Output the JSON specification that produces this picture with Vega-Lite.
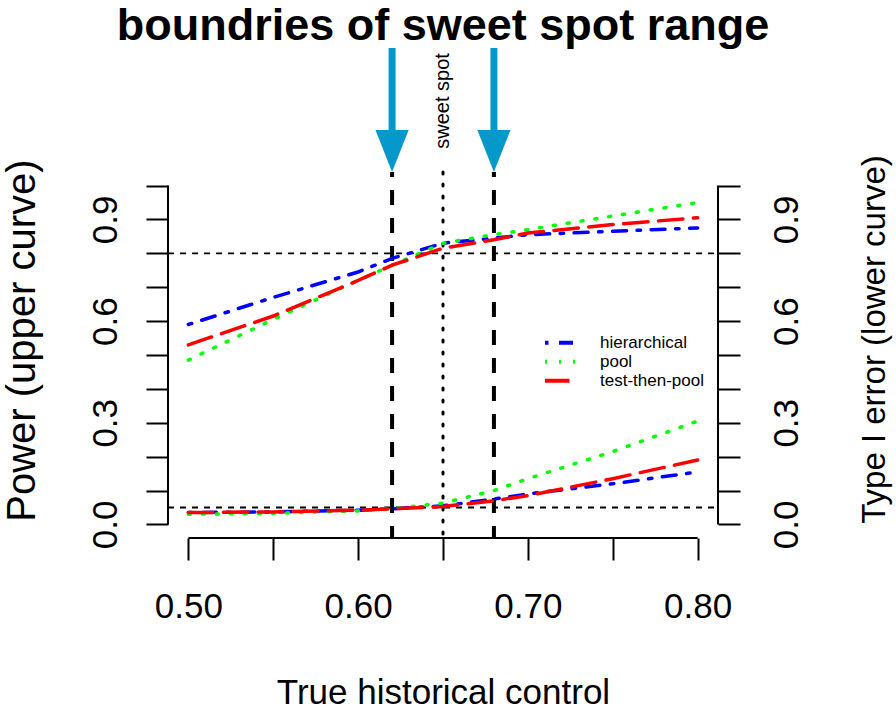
{
  "$schema": "https://vega.github.io/schema/vega-lite/v6.json",
  "width": 550,
  "height": 366,
  "autosize": "none",
  "padding": {"left": 168, "top": 172, "right": 178, "bottom": 171},
  "background": "white",
  "config": {"font": "Liberation Sans", "view": {"stroke": null}},
  "title": {"text": "boundries of sweet spot range", "fontSize": 45, "fontWeight": "bold", "anchor": "middle", "frame": "group", "baseline": "alphabetic", "offset": -41, "color": "black"},
  "resolve": {"axis": {"y": "independent", "x": "independent"}},
  "layer": [
    {
      "data": {"values": [
        {"x": 0.5, "x2": 0.8, "y": -0.04, "y2": -0.04},
        {"x": 0.488, "x2": 0.488, "y": 0, "y2": 1},
        {"x": 0.812, "x2": 0.812, "y": 0, "y2": 1}
      ]},
      "mark": {"type": "rule", "color": "black", "strokeWidth": 2},
      "encoding": {
        "x": {"field": "x", "type": "quantitative", "scale": {"domain": [0.488, 0.812], "nice": false, "zero": false}, "axis": null},
        "x2": {"field": "x2"},
        "y": {"field": "y", "type": "quantitative", "scale": {"domain": [-0.04, 1.04], "nice": false, "zero": false},
          "axis": {"orient": "right", "values": [0, 0.1, 0.2, 0.3, 0.4, 0.5, 0.6, 0.7, 0.8, 0.9, 1.0], "domain": false, "grid": false,
            "tickSize": 22, "tickWidth": 2, "tickColor": "black",
            "labelExpr": "abs(datum.value*10/3 - round(datum.value*10/3)) < 0.01 ? format(datum.value, '.1f') : ''",
            "labelFontSize": 35, "labelAngle": 270, "labelAlign": "center", "labelBaseline": "alphabetic", "labelPadding": 57, "labelColor": "black", "labelOverlap": false, "labelFlush": false,
            "title": "Type I error (lower curve)", "titleFontSize": 33, "titleFontWeight": "normal", "titleColor": "black", "titleAngle": 270, "titleAlign": "center", "titleBaseline": "alphabetic", "titleX": 166, "titleY": 167}},
        "y2": {"field": "y2"}
      }
    },
    {
      "data": {"values": [{"y": 0.8, "x": 0.488, "x2": 0.812}, {"y": 0.05, "x": 0.488, "x2": 0.812}]},
      "mark": {"type": "rule", "color": "black", "strokeWidth": 1.8, "strokeDash": [6, 6]},
      "encoding": {
        "x": {"field": "x", "type": "quantitative", "axis": null},
        "x2": {"field": "x2"},
        "y": {"field": "y", "type": "quantitative", "axis": null}
      }
    },
    {
      "data": {"values": [{"x": 0.62, "y": 1.04, "y2": -0.04}, {"x": 0.68, "y": 1.04, "y2": -0.04}]},
      "mark": {"type": "rule", "color": "black", "strokeWidth": 4, "strokeDash": [15, 13], "strokeDashOffset": 10},
      "encoding": {
        "x": {"field": "x", "type": "quantitative", "axis": null},
        "y": {"field": "y", "type": "quantitative", "axis": null},
        "y2": {"field": "y2"}
      }
    },
    {
      "data": {"values": [{"x": 0.65, "y": 1.04, "y2": -0.04}]},
      "mark": {"type": "rule", "color": "black", "strokeWidth": 3, "strokeDash": [2, 10], "strokeCap": "round"},
      "encoding": {
        "x": {"field": "x", "type": "quantitative", "axis": null},
        "y": {"field": "y", "type": "quantitative", "axis": null},
        "y2": {"field": "y2"}
      }
    },
    {
      "data": {"values": [
        {"x": 0.50, "value": 0.59, "method": "hierarchical", "curve": "power"},
        {"x": 0.55, "value": 0.67, "method": "hierarchical", "curve": "power"},
        {"x": 0.60, "value": 0.745, "method": "hierarchical", "curve": "power"},
        {"x": 0.62, "value": 0.785, "method": "hierarchical", "curve": "power"},
        {"x": 0.65, "value": 0.83, "method": "hierarchical", "curve": "power"},
        {"x": 0.68, "value": 0.845, "method": "hierarchical", "curve": "power"},
        {"x": 0.70, "value": 0.855, "method": "hierarchical", "curve": "power"},
        {"x": 0.75, "value": 0.865, "method": "hierarchical", "curve": "power"},
        {"x": 0.80, "value": 0.875, "method": "hierarchical", "curve": "power"},
        {"x": 0.50, "value": 0.485, "method": "pool", "curve": "power"},
        {"x": 0.55, "value": 0.605, "method": "pool", "curve": "power"},
        {"x": 0.60, "value": 0.72, "method": "pool", "curve": "power"},
        {"x": 0.62, "value": 0.765, "method": "pool", "curve": "power"},
        {"x": 0.65, "value": 0.83, "method": "pool", "curve": "power"},
        {"x": 0.68, "value": 0.855, "method": "pool", "curve": "power"},
        {"x": 0.70, "value": 0.87, "method": "pool", "curve": "power"},
        {"x": 0.75, "value": 0.91, "method": "pool", "curve": "power"},
        {"x": 0.80, "value": 0.95, "method": "pool", "curve": "power"},
        {"x": 0.50, "value": 0.53, "method": "test-then-pool", "curve": "power"},
        {"x": 0.55, "value": 0.615, "method": "test-then-pool", "curve": "power"},
        {"x": 0.60, "value": 0.72, "method": "test-then-pool", "curve": "power"},
        {"x": 0.62, "value": 0.765, "method": "test-then-pool", "curve": "power"},
        {"x": 0.65, "value": 0.815, "method": "test-then-pool", "curve": "power"},
        {"x": 0.68, "value": 0.84, "method": "test-then-pool", "curve": "power"},
        {"x": 0.70, "value": 0.86, "method": "test-then-pool", "curve": "power"},
        {"x": 0.75, "value": 0.885, "method": "test-then-pool", "curve": "power"},
        {"x": 0.80, "value": 0.905, "method": "test-then-pool", "curve": "power"},
        {"x": 0.50, "value": 0.035, "method": "hierarchical", "curve": "type1"},
        {"x": 0.55, "value": 0.037, "method": "hierarchical", "curve": "type1"},
        {"x": 0.60, "value": 0.042, "method": "hierarchical", "curve": "type1"},
        {"x": 0.62, "value": 0.046, "method": "hierarchical", "curve": "type1"},
        {"x": 0.65, "value": 0.055, "method": "hierarchical", "curve": "type1"},
        {"x": 0.68, "value": 0.075, "method": "hierarchical", "curve": "type1"},
        {"x": 0.70, "value": 0.09, "method": "hierarchical", "curve": "type1"},
        {"x": 0.75, "value": 0.12, "method": "hierarchical", "curve": "type1"},
        {"x": 0.80, "value": 0.155, "method": "hierarchical", "curve": "type1"},
        {"x": 0.50, "value": 0.03, "method": "pool", "curve": "type1"},
        {"x": 0.55, "value": 0.033, "method": "pool", "curve": "type1"},
        {"x": 0.60, "value": 0.04, "method": "pool", "curve": "type1"},
        {"x": 0.62, "value": 0.047, "method": "pool", "curve": "type1"},
        {"x": 0.65, "value": 0.063, "method": "pool", "curve": "type1"},
        {"x": 0.68, "value": 0.1, "method": "pool", "curve": "type1"},
        {"x": 0.70, "value": 0.135, "method": "pool", "curve": "type1"},
        {"x": 0.75, "value": 0.215, "method": "pool", "curve": "type1"},
        {"x": 0.80, "value": 0.305, "method": "pool", "curve": "type1"},
        {"x": 0.50, "value": 0.035, "method": "test-then-pool", "curve": "type1"},
        {"x": 0.55, "value": 0.037, "method": "test-then-pool", "curve": "type1"},
        {"x": 0.60, "value": 0.042, "method": "test-then-pool", "curve": "type1"},
        {"x": 0.62, "value": 0.046, "method": "test-then-pool", "curve": "type1"},
        {"x": 0.65, "value": 0.053, "method": "test-then-pool", "curve": "type1"},
        {"x": 0.68, "value": 0.07, "method": "test-then-pool", "curve": "type1"},
        {"x": 0.70, "value": 0.085, "method": "test-then-pool", "curve": "type1"},
        {"x": 0.75, "value": 0.135, "method": "test-then-pool", "curve": "type1"},
        {"x": 0.80, "value": 0.19, "method": "test-then-pool", "curve": "type1"}
      ]},
      "mark": {"type": "line", "strokeWidth": 3.5, "strokeCap": "round"},
      "encoding": {
        "x": {"field": "x", "type": "quantitative",
          "axis": {"orient": "bottom", "values": [0.5, 0.55, 0.6, 0.65, 0.7, 0.75, 0.8], "domain": false, "grid": false,
            "tickSize": 22, "tickWidth": 2, "tickColor": "black",
            "labelExpr": "abs(datum.value*10 - round(datum.value*10)) < 0.01 ? format(datum.value, '.2f') : ''",
            "labelFontSize": 35, "labelBaseline": "alphabetic", "labelPadding": 57, "labelColor": "black", "labelOverlap": false, "labelFlush": false,
            "title": "True historical control", "titleFontSize": 35, "titleFontWeight": "normal", "titleColor": "black", "titleBaseline": "alphabetic", "titleY": 165, "titleX": 275, "titleAlign": "center"}},
        "y": {"field": "value", "type": "quantitative",
          "axis": {"orient": "left", "values": [0, 0.1, 0.2, 0.3, 0.4, 0.5, 0.6, 0.7, 0.8, 0.9, 1.0], "domain": false, "grid": false,
            "tickSize": 22, "tickWidth": 2, "tickColor": "black",
            "labelExpr": "abs(datum.value*10/3 - round(datum.value*10/3)) < 0.01 ? format(datum.value, '.1f') : ''",
            "labelFontSize": 35, "labelAngle": 270, "labelAlign": "center", "labelBaseline": "alphabetic", "labelPadding": 30, "labelColor": "black", "labelOverlap": false, "labelFlush": false,
            "title": "Power (upper curve)", "titleFontSize": 40, "titleFontWeight": "normal", "titleColor": "black", "titleAngle": 270, "titleAlign": "center", "titleBaseline": "alphabetic", "titleX": -134, "titleY": 168}},
        "detail": {"field": "curve"},
        "color": {"field": "method", "type": "nominal",
          "scale": {"domain": ["hierarchical", "pool", "test-then-pool"], "range": ["#0000FF", "#00FF00", "#FF0000"]},
          "legend": {"title": null, "orient": "none", "legendX": 375, "legendY": 162, "symbolType": "stroke", "symbolSize": 1089, "symbolStrokeWidth": 4, "labelFontSize": 17, "labelOffset": 20, "rowPadding": 0, "clipHeight": 17.5, "padding": 0, "labelColor": "black"}},
        "strokeDash": {"field": "method", "type": "nominal",
          "scale": {"domain": ["hierarchical", "pool", "test-then-pool"], "range": [[3.5, 10.5, 14, 10.5], [2, 12], [24.5, 10.5]]},
          "legend": {"title": null, "orient": "none", "legendX": 375, "legendY": 162, "symbolType": "stroke", "symbolSize": 1089, "symbolStrokeWidth": 4, "labelFontSize": 17, "labelOffset": 20, "rowPadding": 0, "clipHeight": 17.5, "padding": 0, "labelColor": "black"}}
      }
    },
    {
      "data": {"values": [{"x": 0.62, "y": 1.406, "y2": 1.15}, {"x": 0.68, "y": 1.406, "y2": 1.15}]},
      "mark": {"type": "rule", "color": "#0599CB", "strokeWidth": 7},
      "encoding": {
        "x": {"field": "x", "type": "quantitative", "axis": null},
        "y": {"field": "y", "type": "quantitative", "axis": null},
        "y2": {"field": "y2"}
      }
    },
    {
      "data": {"values": [{"x": 0.62, "y": 1.102}, {"x": 0.68, "y": 1.102}]},
      "mark": {"type": "point", "shape": "M-0.79,-1L0.79,-1L0,1Z", "size": 1764, "filled": true, "color": "#0599CB", "opacity": 1},
      "encoding": {
        "x": {"field": "x", "type": "quantitative", "axis": null},
        "y": {"field": "y", "type": "quantitative", "axis": null}
      }
    },
    {
      "data": {"values": [{"x": 0.65, "y": 1.2495, "label": "sweet spot"}]},
      "mark": {"type": "text", "angle": 270, "align": "center", "baseline": "middle", "fontSize": 20, "color": "black"},
      "encoding": {
        "x": {"field": "x", "type": "quantitative", "axis": null},
        "y": {"field": "y", "type": "quantitative", "axis": null},
        "text": {"field": "label"}
      }
    }
  ]
}
